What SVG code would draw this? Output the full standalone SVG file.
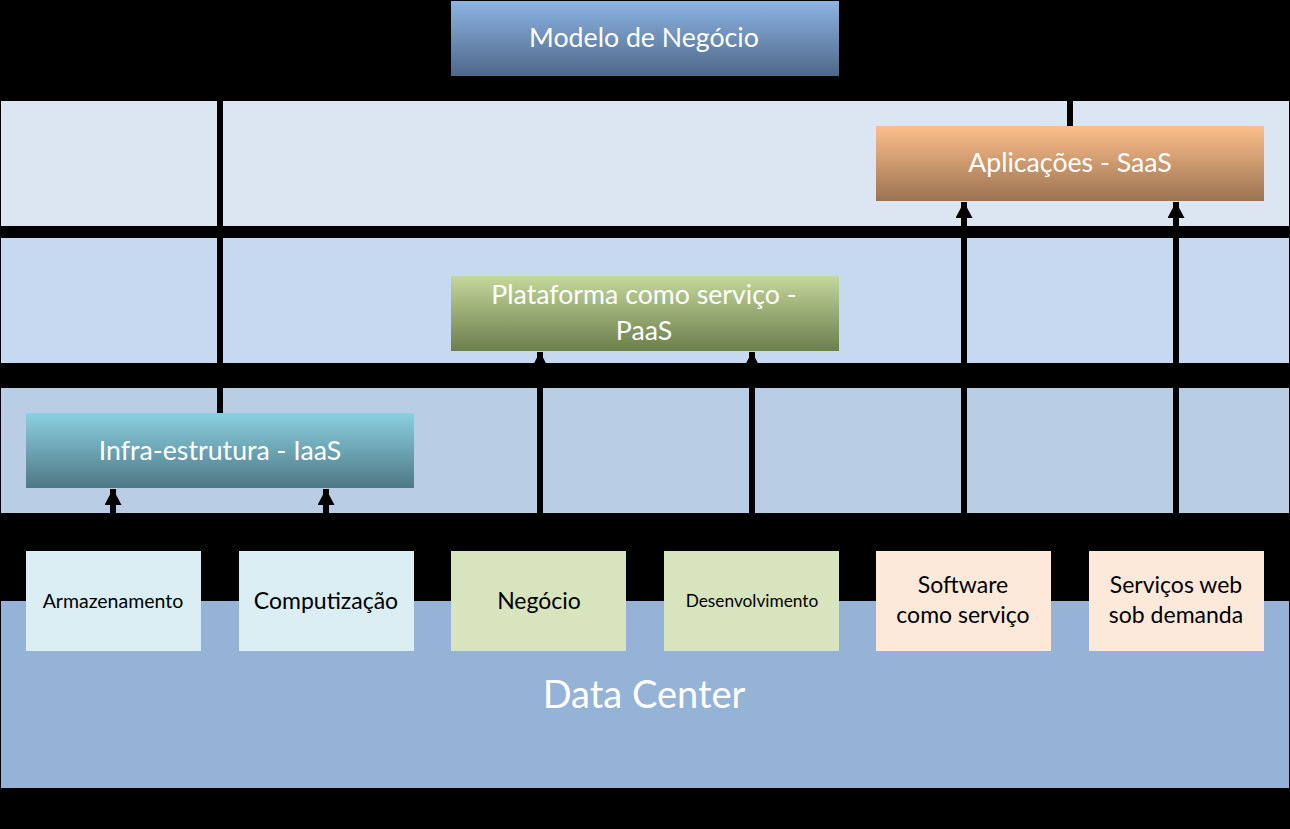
<svg xmlns="http://www.w3.org/2000/svg" width="1290" height="829" viewBox="0 0 1290 829">
<defs>
<linearGradient id="gBlue" x1="0" y1="0" x2="0" y2="1"><stop offset="0" stop-color="#8DB4E3"/><stop offset="1" stop-color="#4E6889"/></linearGradient>
<linearGradient id="gOrange" x1="0" y1="0" x2="0" y2="1"><stop offset="0" stop-color="#FCBF8B"/><stop offset="1" stop-color="#9B7352"/></linearGradient>
<linearGradient id="gGreen" x1="0" y1="0" x2="0" y2="1"><stop offset="0" stop-color="#C4D79C"/><stop offset="1" stop-color="#6C7E4B"/></linearGradient>
<linearGradient id="gTeal" x1="0" y1="0" x2="0" y2="1"><stop offset="0" stop-color="#8BD0E1"/><stop offset="1" stop-color="#4F7885"/></linearGradient>
<marker id="arr" markerUnits="userSpaceOnUse" markerWidth="18" markerHeight="17" refX="16" refY="8.5" orient="auto">
<path d="M0,0 L16,8.5 L0,17 Z" fill="#000"/>
</marker>
<style>
.band{stroke:none}
.lbl{font-family:Lato,"Open Sans","Liberation Sans",sans-serif;text-anchor:middle}
.w{fill:#fff;font-size:26.7px}
.k{fill:#000;font-size:23px}
.conn line{stroke:#000;stroke-width:6}
</style>
</defs>
<rect x="0" y="0" width="1290" height="829" fill="#000"/>
<g id="layers">
<rect class="band" x="1" y="101" width="1288" height="125" fill="#DCE6F2"/>
<rect class="band" x="1" y="238" width="1288" height="125" fill="#C6D9F1"/>
<rect class="band" x="1" y="388" width="1288" height="125" fill="#B9CDE5"/>
</g>
<g id="datacenter">
<rect x="1" y="601" width="1288" height="187" fill="#95B3D7"/>
<text class="lbl" x="644" y="708" font-size="38" fill="#fff">Data Center</text>
</g>
<g class="conn" id="connectors">
<line x1="220" y1="75" x2="220" y2="413"/>
<line x1="1070" y1="75" x2="1070" y2="126"/>
<line x1="113" y1="551" x2="113" y2="489" marker-end="url(#arr)"/>
<line x1="326" y1="551" x2="326" y2="489" marker-end="url(#arr)"/>
<line x1="540" y1="551" x2="540" y2="352" marker-end="url(#arr)"/>
<line x1="752" y1="551" x2="752" y2="352" marker-end="url(#arr)"/>
<line x1="964" y1="551" x2="964" y2="202" marker-end="url(#arr)"/>
<line x1="1176" y1="551" x2="1176" y2="202" marker-end="url(#arr)"/>
</g>
<g id="modelo">
<rect x="451" y="1" width="388" height="75" fill="url(#gBlue)"/>
<text class="lbl w" x="644" y="47">Modelo de Negócio</text>
</g>
<g id="saas">
<rect x="876" y="126" width="388" height="75" fill="url(#gOrange)"/>
<text class="lbl w" x="1070" y="172">Aplicações - SaaS</text>
</g>
<g id="paas">
<rect x="451" y="276" width="388" height="75" fill="url(#gGreen)"/>
<text class="lbl w" x="644" y="304">Plataforma como serviço -</text>
<text class="lbl w" x="644" y="340">PaaS</text>
</g>
<g id="iaas">
<rect x="26" y="413" width="388" height="75" fill="url(#gTeal)"/>
<text class="lbl w" x="220" y="460">Infra-estrutura - IaaS</text>
</g>
<g id="armazenamento">
<rect x="26" y="551" width="175" height="100" fill="#DAEEF3"/>
<text class="lbl" x="113" y="608" font-size="19.5">Armazenamento</text>
</g>
<g id="computizacao">
<rect x="239" y="551" width="175" height="100" fill="#DAEEF3"/>
<text class="lbl k" x="326" y="609">Computização</text>
</g>
<g id="negocio">
<rect x="451" y="551" width="175" height="100" fill="#D7E4BD"/>
<text class="lbl k" x="539" y="609">Negócio</text>
</g>
<g id="desenvolvimento">
<rect x="664" y="551" width="175" height="100" fill="#D7E4BD"/>
<text class="lbl" x="752" y="607" font-size="17.3">Desenvolvimento</text>
</g>
<g id="software">
<rect x="876" y="551" width="175" height="100" fill="#FDE9D9"/>
<text class="lbl k" x="963" y="593">Software</text>
<text class="lbl k" x="963" y="623">como serviço</text>
</g>
<g id="servicos">
<rect x="1089" y="551" width="175" height="100" fill="#FDE9D9"/>
<text class="lbl k" x="1176" y="593">Serviços web</text>
<text class="lbl k" x="1176" y="623">sob demanda</text>
</g>
</svg>
